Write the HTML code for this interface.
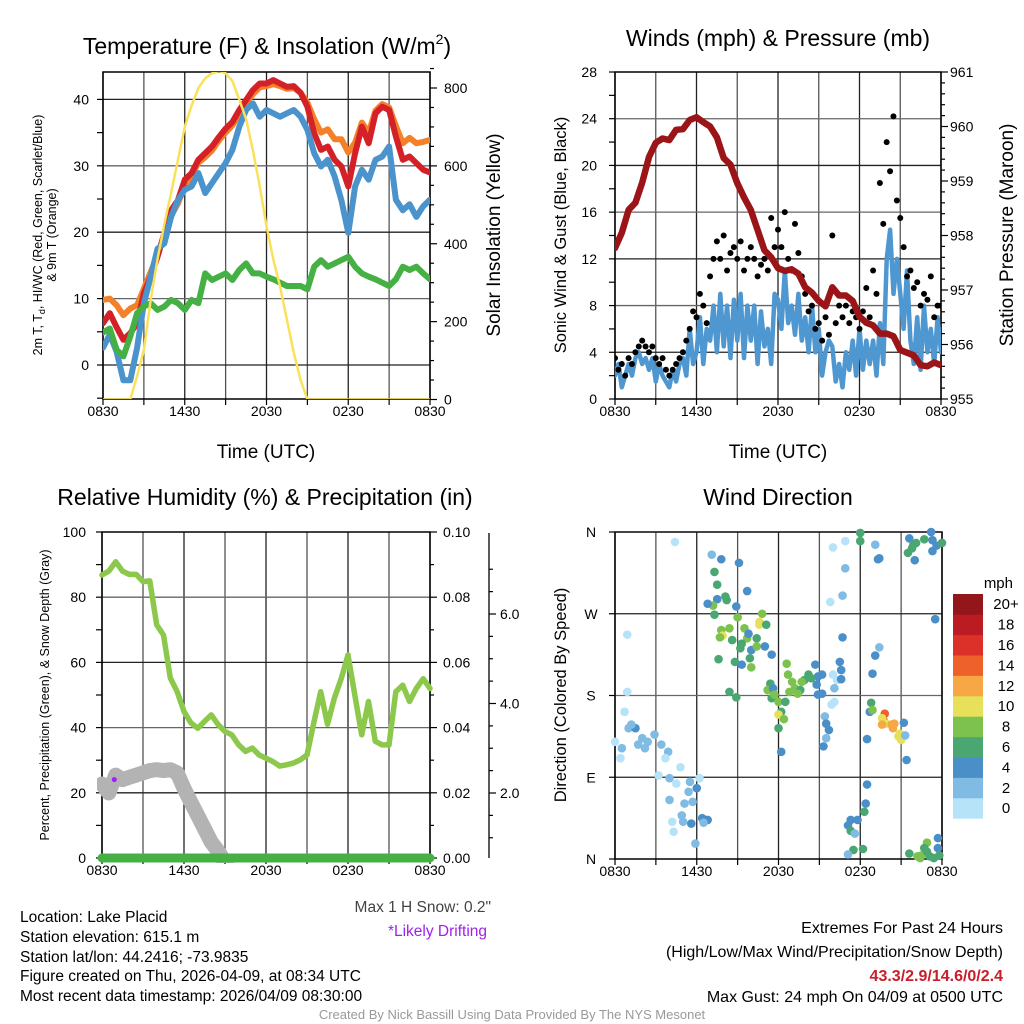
<!DOCTYPE html>
<html><head><meta charset="utf-8">
<style>
html,body{margin:0;padding:0;background:#fff;}
svg{display:block;font-family:"Liberation Sans",Arial,sans-serif;}
</style></head>
<body>
<svg id="chart" width="1024" height="1024" viewBox="0 0 1024 1024" xmlns="http://www.w3.org/2000/svg">
<defs>
<clipPath id="c1"><rect x="103" y="72" width="327" height="327"/></clipPath>
<clipPath id="c2"><rect x="615" y="72" width="326" height="327"/></clipPath>
<clipPath id="c3"><rect x="97" y="527" width="340" height="336"/></clipPath>
<clipPath id="c4"><rect x="608" y="526" width="340" height="340"/></clipPath>
</defs>
<rect width="1024" height="1024" fill="#fff"/>
<!-- titles -->
<text x="267" y="54" font-size="23" text-anchor="middle">Temperature (F) &amp; Insolation (W/m<tspan font-size="14" dy="-10">2</tspan><tspan dy="10">)</tspan></text>
<text x="778" y="46" font-size="23" text-anchor="middle">Winds (mph) &amp; Pressure (mb)</text>
<text x="265" y="505" font-size="23" text-anchor="middle">Relative Humidity (%) &amp; Precipitation (in)</text>
<text x="778" y="505" font-size="23" text-anchor="middle">Wind Direction</text>
<!-- axis titles -->
<text x="266" y="458" font-size="19" text-anchor="middle">Time (UTC)</text>
<text x="778" y="458" font-size="19" text-anchor="middle">Time (UTC)</text>
<text transform="translate(42,235) rotate(-90)" font-size="12.5" text-anchor="middle">2m T, T<tspan font-size="9" dy="3">d</tspan><tspan dy="-3">, HI/WC (Red, Green, Scarlet/Blue)</tspan></text>
<text transform="translate(56,235) rotate(-90)" font-size="12.5" text-anchor="middle">&amp; 9m T (Orange)</text>
<text transform="translate(500,235) rotate(-90)" font-size="19" text-anchor="middle">Solar Insolation (Yellow)</text>
<text transform="translate(566,235) rotate(-90)" font-size="16.5" text-anchor="middle">Sonic Wind &amp; Gust (Blue, Black)</text>
<text transform="translate(1013,235) rotate(-90)" font-size="19" text-anchor="middle">Station Pressure (Maroon)</text>
<text transform="translate(49,695) rotate(-90)" font-size="12.5" text-anchor="middle">Percent, Precipitation (Green), &amp; Snow Depth (Gray)</text>
<text transform="translate(566,695) rotate(-90)" font-size="16.5" text-anchor="middle">Direction (Colored By Speed)</text>
<!-- footer texts -->
<g font-size="15.5">
<text x="20" y="922">Location: Lake Placid</text>
<text x="20" y="942">Station elevation: 615.1 m</text>
<text x="20" y="962">Station lat/lon: 44.2416; -73.9835</text>
<text x="20" y="981">Figure created on Thu, 2026-04-09, at 08:34 UTC</text>
<text x="20" y="1001">Most recent data timestamp: 2026/04/09 08:30:00</text>
</g>
<text x="491" y="912" font-size="15.5" fill="#444" text-anchor="end">Max 1 H Snow: 0.2"</text>
<text x="487" y="936" font-size="15.5" fill="#a020f0" text-anchor="end">*Likely Drifting</text>
<text x="1003" y="933" font-size="16" text-anchor="end">Extremes For Past 24 Hours</text>
<text x="1003" y="957" font-size="16" text-anchor="end">(High/Low/Max Wind/Precipitation/Snow Depth)</text>
<text x="1003" y="981" font-size="16" font-weight="bold" fill="#c8202a" text-anchor="end">43.3/2.9/14.6/0/2.4</text>
<text x="1003" y="1002" font-size="16" text-anchor="end">Max Gust: 24 mph On 04/09 at 0500 UTC</text>
<text x="512" y="1019" font-size="13" fill="#999" text-anchor="middle">Created By Nick Bassill Using Data Provided By The NYS Mesonet</text>
<text x="1013" y="588" font-size="15" text-anchor="end">mph</text>
</svg>
<script>
// ---------- DATA (30-min steps, 0 = 0830 UTC) ----------
const timeLabels = ["0830","1430","2030","0230","0830"];
const tempRed = [6.3,7.8,5.7,3.8,4.8,6.3,10.8,13.3,16.3,19.8,23.3,24.8,27.9,28.9,30.9,31.9,32.9,34.3,35.6,36.6,38.4,39.9,41.4,42.4,42.4,42.9,42.4,41.9,42,41,38.9,34.9,32.4,32.9,30.9,29.9,26.9,31.9,35.9,33.4,37.9,38.9,38.4,34.4,30.9,31.4,30.4,29.4,29];
const tempOrange = [9.8,10,9,7.5,8.5,9,11.5,14,16.5,19.5,22.5,24.3,27,28.5,30.5,31.3,32.3,33.8,35,36.1,37.8,39.4,40.8,41.8,42,42.3,42,41.6,41.7,41,39.5,37,35,35.5,34,34,32,33.5,36.5,35,38.3,39.3,38.8,36,33.4,34.2,33.4,33.6,33.9];
const tempBlue = [2.6,4.6,2.0,-2.3,-2.3,2.6,9.3,13.3,17.5,18.3,22.3,24.8,26.4,26.9,28.9,25.9,27.4,28.9,30.4,32.4,35.9,38.4,39.4,37.4,38.4,37.9,37.4,37.9,38.4,37.4,35.4,31.9,29.9,30.9,28.4,24.8,19.9,26.9,29.4,27.9,30.9,31.4,32.9,24.9,23.3,24.2,22.3,23.9,24.9];
const dewGreen = [4.9,5.5,2.3,1.3,4.3,7.8,8.8,9.3,8.3,8.8,9.8,9.3,8.3,9.8,9.3,13.8,12.8,13.3,13.8,12.8,14.3,15.3,13.8,13.8,13.3,12.9,12.4,11.9,11.9,11.9,11.4,14.8,15.8,14.8,15.3,15.8,16.3,14.8,13.8,13.3,12.9,12.4,11.9,12.9,14.8,14.3,14.8,13.8,12.9];
const solar = [0,0,0,0,0,60,127,256,360,450,530,615,700,755,800,825,838,844,838,818,770,720,640,548,445,360,290,205,120,50,0,0,0,0,0,0,0,0,0,0,0,0,0,0,0,0,0,0,0];
// winds: 15-min steps
const windSpeed = [2,3,1,2, 3,2,3.5,4, 3,3.5,2.5,3.5, 1.5,3,2,1.5, 1,2.5,1.5,3, 3.5,2,6,3, 4,7,3,6, 5,8,4,9, 4.5,8,3.5,8.5, 5,9,3.5,8, 5,8,3,7.5, 4.5,6,3,9, 8.5,6,11,6.5, 8,5.5,9,5, 7,4,8,4, 6,2,4,5, 4.5,1.5,3,1, 4,2.5,5,2, 6,2.5,5,3, 5,2,6.5,3, 12,14.5,9,12, 9,6,11,5, 3,7,2.5,8, 4,6,3,7, 4];
const windGust = [3.5,2.5,3,2, 3.5,3,4,4.5, 5,4.5,4,4.5, 3.5,3,3.5,2.5, 2,2.5,3,3.5, 4,5,6,7.5, 7,9,8,6.5, 10.5,12,13.5,12, 14,11,12.5,13, 12,13.5,11,12, 13,12,10.5,11.5, 12,11,15.5,13, 14.5,13,16,12, 11,15,12.5,10.5, 9,7.5,8,6, 6.5,5,7,5.5, 14,6.5,8,7, 8,6.5,7.5,7, 6,7.5,9.5,7, 11,9,18.5,15, 22,19.5,24.2,17, 15.5,13,10.5,11, 9.5,10,8,9, 8.5,10.5,7,8, 8];
const pressure = [957.77,958.05,958.47,958.6,958.97,959.44,959.7,959.78,959.75,959.94,959.95,960.12,960.17,960.08,960.0,959.8,959.42,959.3,958.96,958.7,958.47,958.1,957.73,957.6,957.4,957.35,957.38,957.3,957.05,956.95,956.8,956.7,957.05,956.9,956.9,956.8,956.51,956.4,956.35,956.2,956.2,956.15,955.9,955.85,955.8,955.62,955.6,955.67,955.62];
const rhValues = [86.8,88,90.9,88,87,87,84.8,85,71.5,68.4,55.2,51,44.9,41.5,39.8,41.9,43.9,40.9,38.8,37.8,34.7,32.7,33.7,31.6,30.6,29.6,28.2,28.6,29.1,30.1,31.6,41.5,51,41,49,55,62.3,50,37.8,48,35.8,34.7,34.7,51,53,48,52,55,52];
const snowDepth = [2.2,2.0,2.4,2.3,2.35,2.4,2.45,2.5,2.52,2.5,2.52,2.45,2.1,1.8,1.5,1.2,0.9,0.7,0.45,0.2];
const precip = [0,0,0,0,0,0,0,0,0,0,0,0,0,0,0,0,0,0,0,0,0,0,0,0,0,0,0,0,0,0,0,0,0,0,0,0,0,0,0,0,0,0,0,0,0,0,0,0,0];
// wind direction scatter: hour, degrees, speed (mph)
const dirHours = [0.0,0.5,1.0,1.5,2.0,2.4,2.9,3.4,3.9,0.4,1.2,1.7,2.2,3.7,0.7,0.9,0.9,4.4,3.2,4.0,4.8,4.5,5.5,6.0,6.2,4.0,5.1,5.7,6.6,6.4,6.8,6.5,5.6,5.0,4.3,5.9,4.2,4.9,5.4,
7.1,7.8,9.1,7.3,7.5,8.1,8.2,7.5,8.9,9.7,7.2,6.8,7.3,9.0,10.8,10.6,10.6,11.1,7.8,7.9,7.7,8.4,8.6,9.5,9.7,9.3,9.8,10.0,10.4,10.4,11.0,11.5,9.2,9.9,10.0,8.8,9.3,7.6,8.4,8.9,
12.6,12.7,13.0,13.2,12.8,13.6,13.9,14.2,14.7,14.9,15.2,14.8,15.2,14.9,14.4,13.7,13.4,11.4,11.2,11.6,11.5,11.7,12.0,12.5,12.2,12.0,12.4,12.0,12.2,
16.0,16.3,16.1,15.9,16.1,15.4,15.5,15.7,15.5,15.3,16.5,16.6,16.6,16.7,16.7,15.8,16.9,16.0,16.9,18.0,18.0,19.1,19.3,19.4,19.1,19.4,18.9,18.8,18.7,18.9,
19.8,19.7,19.6,19.9,20.3,20.5,19.6,20.4,20.8,21.0,20.9,21.2,21.3,21.4,18.5,18.5,18.4,18.3,17.8,17.3,17.1,17.3,17.6,17.5,18.2,17.1,
21.6,22.1,21.9,21.8,22.7,23.2,23.3,23.6,23.3,24.0,21.5,22.0,23.5,21.6,22.2,22.5,22.9,22.9,22.7,22.4,23.1,23.7,23.7,23.8,23.4];
const dirDegrees = [129,122,144,144,133,129,137,126,118,111,148,126,122,111,162,184,247,349,92,89,101,83,85,78,89,65,61,63,43,45,43,40,39,41,30,17,41,48,74,
335,330,326,316,302,289,285,286,278,295,279,281,269,266,270,261,258,258,252,246,244,254,241,254,243,237,248,230,243,234,234,225,232,221,211,217,214,220,184,178,
215,203,195,188,184,186,197,203,214,201,203,192,182,181,199,195,182,193,186,188,177,181,173,173,162,159,154,144,118,
203,197,188,170,173,157,149,142,133,124,217,208,198,244,290,283,320,343,350,359,350,346,330,331,224,233,204,172,162,164,
160,153,155,149,148,149,148,144,135,131,138,150,136,109,132,82,61,52,43,43,37,31,28,10,11,5,
353,348,346,342,352,360,351,345,339,348,337,329,264,6,3,4,8,18,12,1,3,23,12,4,1];
const dirSpeeds = [1.5,2.5,2.5,4.5,2.5,2.5,2.5,2.5,2.5,1.5,3,3,3,1.5,1,1,1,0.5,1,2.5,1,1,3,4.5,1,2.5,2.5,2.5,4.5,4.5,4.5,3,4.5,3,1,3,1,3,3,
3,4.5,4.5,6.5,6.5,6.5,6.5,4.5,4.5,4.5,8.5,4.5,6.5,8.5,8.5,10.5,10.5,6.5,8.5,10.5,8.5,8.5,6.5,8.5,8.5,6.5,4.5,4.5,6.5,8.5,4.5,4.5,6.5,6.5,8.5,6.5,4.5,6.5,6.5,6.5,
8.5,8.5,8.5,8.5,8.5,6.5,6.5,6.5,4.5,4.5,4.5,4.5,4.5,4.5,6.5,8.5,8.5,6.5,8.5,4.5,6.5,8.5,8.5,6.5,6.5,10.5,8.5,6.5,4.5,
1,1,3,1,1,3,4.5,4.5,3,4.5,4.5,4.5,4.5,4.5,3,1,3,1,1,6.5,6.5,3,4.5,4.5,4.5,3,4.5,6.5,4.5,8.5,
14.5,14.5,10.5,10.5,12.5,12.5,12.5,12.5,10.5,10.5,10.5,4.5,3,4.5,4.5,4.5,4.5,6.5,4.5,4.5,4.5,6.5,3,6.5,6.5,3,
4.5,6.5,6.5,6.5,6.5,4.5,4.5,4.5,4.5,6.5,6.5,4.5,4.5,6.5,8.5,8.5,6.5,8.5,6.5,8.5,6.5,4.5,4.5,6.5,6.5];
const speedBins = ["0","2","4","6","8","10","12","14","16","18","20+"];
const binColors = ["#b6e3f8","#80bbe3","#4a8fc7","#4aa772","#7dc24e","#e6e05a","#f7a845","#ef612a","#dc3128","#bb1b22","#93161b"];

// ---------- helpers ----------
const NS = 'http://www.w3.org/2000/svg';
const svg = document.getElementById('chart');
function mk(tag, attrs, parent) {
  const e = document.createElementNS(NS, tag);
  for (const k in attrs) e.setAttribute(k, attrs[k]);
  (parent || svg).appendChild(e);
  return e;
}
function lin(d0, d1, r0, r1) { return v => r0 + (v - d0) / (d1 - d0) * (r1 - r0); }
function group(name, clip) {
  const g = mk('g', clip ? {'clip-path': 'url(#' + clip + ')'} : {});
  
  
  return g;
}
function linePath(vals, step, xs, ys) {
  let d = '';
  vals.forEach((v, i) => { if (v === null) return; d += (d ? 'L' : 'M') + xs(i * step).toFixed(1) + ',' + ys(v).toFixed(1); });
  return d;
}
function drawLine(g, name, vals, step, xs, ys, color, w) {
  const p = mk('path', {d: linePath(vals, step, xs, ys), fill: 'none', stroke: color, 'stroke-width': w, 'stroke-linejoin': 'round', 'stroke-linecap': 'round'}, g);
  
  
  return p;
}
function tick(g, x1, y1, x2, y2) {
  const l = mk('line', {x1: x1, y1: y1, x2: x2, y2: y2, stroke: '#000', 'stroke-width': 1.2}, g);
  
  
}
function label(g, x, y, txt, anchor, size) {
  const t = mk('text', {x: x, y: y, 'font-size': size || 14, 'text-anchor': anchor || 'middle'}, g);
  t.textContent = txt;
  
  
}
function frame(name, x0, y0, x1, y1, xs, yTicks, ys) {
  const g = group(name + '-grid');
  for (let h = 0; h <= 24; h += 3) {
    const l = mk('line', {x1: xs(h), y1: y0, x2: xs(h), y2: y1, stroke: h % 6 ? '#555' : '#222', 'stroke-width': 1.3}, g);
    
    
  }
  yTicks.forEach((v, i) => {
    const l = mk('line', {x1: x0, y1: ys(v), x2: x1, y2: ys(v), stroke: i % 2 ? '#666' : '#222', 'stroke-width': 1.3}, g);
    
    
  });
  const b = mk('rect', {x: x0, y: y0, width: x1 - x0, height: y1 - y0, fill: 'none', stroke: '#000', 'stroke-width': 1.5}, g);
  
  
  const ax = group(name + '-x-axis');
  for (let h = 0; h <= 24; h += 3) tick(ax, xs(h), y1, xs(h), y1 + 6);
  timeLabels.forEach((t, i) => label(ax, xs(i * 6), y1 + 17, t));
}

// ---------- Panel 1: temperature ----------
const x1s = lin(0, 24, 103, 430), yT = lin(0, 40, 365, 99.4), yS = lin(0, 800, 399.5, 88);
frame('temp', 103, 72, 430, 399, x1s, [0, 10, 20, 30, 40], yT);
(function () {
  const ay = group('temp-left-axis');
  for (let v = -5; v <= 40; v += 5) tick(ay, 97, yT(v), 103, yT(v));
  [0, 10, 20, 30, 40].forEach(v => label(ay, 89, yT(v) + 5, String(v), 'end'));
  const ar = group('insolation-right-axis');
  for (let v = 0; v <= 850; v += 50) tick(ar, 430, yS(v), v % 200 ? 434 : 437, yS(v));
  [0, 200, 400, 600, 800].forEach(v => label(ar, 444, yS(v) + 5, String(v), 'start'));
  const g = group('temp-series', 'c1');
  drawLine(g, 'temp-9m-orange-line', tempOrange, 0.5, x1s, yT, '#f5802a', 6);
  drawLine(g, 'temp-2m-red-line', tempRed, 0.5, x1s, yT, '#d42027', 6);
  drawLine(g, 'heat-index-blue-line', tempBlue, 0.5, x1s, yT, '#4b93cc', 6);
  drawLine(g, 'dewpoint-green-line', dewGreen, 0.5, x1s, yT, '#45b044', 6);
  drawLine(g, 'solar-yellow-line', solar, 0.5, x1s, yS, '#fbe15a', 2.5);
})();

// ---------- Panel 2: winds ----------
const x2s = lin(0, 24, 615, 941), yW = lin(0, 28, 399, 72), yP = lin(955, 961, 399, 72);
frame('wind', 615, 72, 941, 399, x2s, [4, 8, 12, 16, 20, 24], yW);
(function () {
  const ay = group('wind-left-axis');
  for (let v = 0; v <= 28; v += 2) tick(ay, 609, yW(v), 615, yW(v));
  for (let v = 0; v <= 28; v += 4) label(ay, 597, yW(v) + 5, String(v), 'end');
  const ar = group('pressure-right-axis');
  for (let i = 0; i <= 30; i++) tick(ar, 941, yP(955 + i * 0.2), i % 5 ? 945 : 948, yP(955 + i * 0.2));
  for (let v = 955; v <= 961; v++) label(ar, 950, yP(v) + 5, String(v), 'start');
  const g = group('wind-series', 'c2');
  drawLine(g, 'sonic-wind-blue-line', windSpeed, 0.25, x2s, yW, '#4f97d0', 4.5);
  windGust.forEach((v, i) => {
    const c = mk('circle', {cx: x2s(i * 0.25), cy: yW(v), r: 3, fill: '#000'}, g);
    
    
  });
  drawLine(g, 'pressure-maroon-line', pressure, 0.5, x2s, yP, '#9b1518', 6.5);
})();

// ---------- Panel 3: humidity ----------
const x3s = lin(0, 24, 102, 430), yR = lin(0, 100, 858, 532), yPr = lin(0, 0.1, 858, 532), ySn = lin(2, 6, 793, 614);
frame('humidity', 102, 532, 430, 858, x3s, [20, 40, 60, 80], yR);
(function () {
  const ay = group('humidity-left-axis');
  for (let v = 0; v <= 100; v += 10) tick(ay, 96, yR(v), 102, yR(v));
  for (let v = 0; v <= 100; v += 20) label(ay, 86, yR(v) + 5, String(v), 'end');
  const ar = group('precip-right-axis');
  for (let i = 0; i <= 10; i++) tick(ar, 430, yPr(i * 0.01), i % 2 ? 434 : 437, yPr(i * 0.01));
  for (let i = 0; i <= 5; i++) label(ar, 443, yPr(i * 0.02) + 5, (i * 0.02).toFixed(2), 'start');
  const as = group('snow-depth-axis');
  const al = mk('line', {x1: 489, y1: 533, x2: 489, y2: 858, stroke: '#000', 'stroke-width': 1.3}, as);
  
  
  for (let v = 0.5; v <= 7.0; v += 0.5) { const y = ySn(v); if (y >= 533 && y <= 858) tick(as, 489, y, v % 2 ? 493 : 496, y); }
  [2, 4, 6].forEach(v => label(as, 500, ySn(v) + 5, v.toFixed(1), 'start'));
  const g = group('humidity-series', 'c3');
  drawLine(g, 'snow-depth-gray-line', snowDepth, 0.5, x3s, ySn, '#b3b3b3', 15);
  drawLine(g, 'relative-humidity-line', rhValues, 0.5, x3s, yR, '#8cc84b', 5.5);
  drawLine(g, 'precipitation-line', precip, 0.5, x3s, yPr, '#45b044', 9);
  const d = mk('circle', {cx: x3s(0.9), cy: ySn(2.3), r: 2.5, fill: '#a020f0'}, g);
  
  
})();

// ---------- Panel 4: wind direction ----------
const x4s = lin(0, 24, 615, 942), yD = lin(0, 360, 859, 532);
frame('direction', 615, 532, 942, 859, x4s, [90, 180, 270], yD);
(function () {
  const ay = group('direction-left-axis');
  ['N', 'E', 'S', 'W', 'N'].forEach((t, i) => { tick(ay, 609, yD(i * 90), 615, yD(i * 90)); label(ay, 591, yD(i * 90) + 5, t, 'middle'); });
  const hl = mk('line', {x1: 615, y1: 532, x2: 942, y2: 532, stroke: '#222', 'stroke-width': 1.3}, ay);
  
  
  const g = group('direction-points', 'c4');
  dirHours.forEach((h, i) => {
    const bin = Math.min(10, Math.floor(dirSpeeds[i] / 2));
    const c = mk('circle', {cx: x4s(h), cy: yD(dirDegrees[i]), r: 4.3, fill: binColors[bin]}, g);
    
    
  });
  const cb = group('speed-colorbar');
  const h = 20.4;
  speedBins.forEach((lab, i) => {
    const k = 10 - i;
    const r = mk('rect', {x: 953, y: 594 + k * h, width: 30, height: h + 0.3, fill: binColors[i]}, cb);
    
    
    label(cb, 1006, 594 + k * h + h / 2 + 5, lab, 'middle', 15);
  });
})();
</script>
</body></html>
